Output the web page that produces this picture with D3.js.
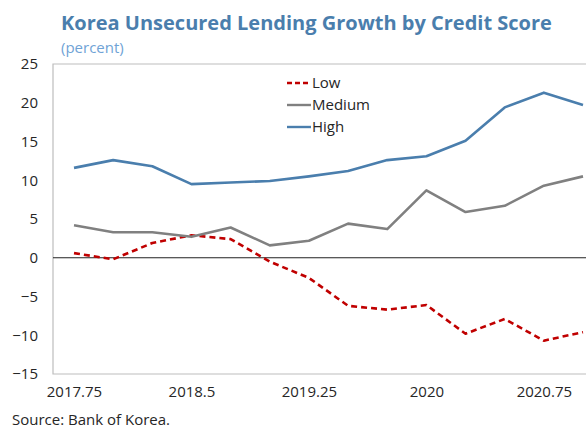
<!DOCTYPE html>
<html>
<head>
<meta charset="utf-8">
<script src="https://cdn.jsdelivr.net/npm/d3@7"></script>
<style>
  body { margin: 0; background: #fff; }
  svg { display: block; font-family: "Open Sans", "Noto Sans", sans-serif; }
</style>
</head>
<body>
<div id="chart"></div>
<script>
// quarterly observations
const quarters = [2017.75, 2018, 2018.25, 2018.5, 2018.75, 2019, 2019.25, 2019.5, 2019.75, 2020, 2020.25, 2020.5, 2020.75, 2021];
const lowScore = [0.6, -0.2, 1.9, 2.9, 2.4, -0.5, -2.6, -6.2, -6.7, -6.1, -9.8, -7.9, -10.7, -9.6];
const mediumScore = [4.2, 3.3, 3.3, 2.7, 3.9, 1.6, 2.2, 4.4, 3.7, 8.7, 5.9, 6.7, 9.3, 10.5];
const highScore = [11.6, 12.6, 11.8, 9.5, 9.7, 9.9, 10.5, 11.2, 12.6, 13.1, 15.1, 19.4, 21.3, 19.7];
const xTicks = [2017.75, 2018.5, 2019.25, 2020, 2020.75];
const yTicks = [-15, -10, -5, 0, 5, 10, 15, 20, 25];

const series = [
  {name: 'Low', values: lowScore, color: '#c00000', dash: '6,4'},
  {name: 'Medium', values: mediumScore, color: '#808080', dash: null},
  {name: 'High', values: highScore, color: '#4a7ead', dash: null}
];

const width = 586, height = 430;
const svg = d3.select('#chart').append('svg')
    .attr('width', width)
    .attr('height', height);

const plot = {left: 53, top: 64, right: 620, bottom: 374};

// x: quarters are evenly spaced, half a step padding on each side
const x = d3.scaleLinear()
    .domain([2017.75, 2021])
    .range([74, 583]);
const y = d3.scaleLinear()
    .domain([-15, 25])
    .range([plot.bottom, plot.top]);

// title
svg.append('text')
    .attr('x', 61).attr('y', 30)
    .attr('font-size', 20).attr('font-weight', 'bold')
    .attr('fill', '#4a7ead')
    .text('Korea Unsecured Lending Growth by Credit Score');
svg.append('text')
    .attr('x', 61).attr('y', 53)
    .attr('font-size', 15)
    .attr('fill', '#6fa3d6')
    .text('(percent)');

// frame (right side is cut off like the source)
svg.append('path')
    .attr('d', `M${plot.right},${plot.top}H${plot.left}V${plot.bottom}H${plot.right}`)
    .attr('fill', 'none')
    .attr('stroke', '#bdbdbd')
    .attr('stroke-width', 1.2);

// zero line
svg.append('line')
    .attr('x1', plot.left).attr('x2', plot.right)
    .attr('y1', y(0)).attr('y2', y(0))
    .attr('stroke', '#222').attr('stroke-width', 1);

// y axis labels
const yAxis = svg.append('g')
    .attr('transform', `translate(${plot.left},0)`)
    .call(d3.axisLeft(y).tickValues(yTicks).tickSize(0).tickPadding(15));
yAxis.select('.domain').remove();
yAxis.selectAll('text')
    .attr('font-size', 15)
    .attr('font-family', '"Open Sans", "Noto Sans", sans-serif')
    .attr('fill', '#262626');

// x axis labels
const xAxis = svg.append('g')
    .attr('transform', `translate(0,${plot.bottom})`)
    .call(d3.axisBottom(x).tickValues(xTicks).tickSize(0).tickPadding(12)
        .tickFormat(d => String(d)));
xAxis.select('.domain').remove();
xAxis.selectAll('text')
    .attr('font-size', 15)
    .attr('font-family', '"Open Sans", "Noto Sans", sans-serif')
    .attr('fill', '#262626');

// lines
const line = d3.line()
    .x((d, i) => x(quarters[i]))
    .y(d => y(d));

svg.selectAll('path.series').data(series)
    .join('path')
    .attr('class', 'series')
    .attr('d', d => line(d.values))
    .attr('fill', 'none')
    .attr('stroke', d => d.color)
    .attr('stroke-width', 2.6)
    .attr('stroke-dasharray', d => d.dash)
    .attr('stroke-linejoin', 'round');

// legend
const legend = svg.append('g').attr('transform', 'translate(287,83)');
const items = legend.selectAll('g').data(series)
    .join('g')
    .attr('transform', (d, i) => `translate(0,${i * 22})`);
items.append('line')
    .attr('x1', 0).attr('x2', 24)
    .attr('stroke', d => d.color)
    .attr('stroke-width', 2.4)
    .attr('stroke-dasharray', d => d.dash ? '5,3' : null);
items.append('text')
    .attr('x', 25).attr('dy', '0.35em')
    .attr('font-size', 15)
    .attr('fill', '#262626')
    .text(d => d.name);

// source
svg.append('text')
    .attr('x', 12).attr('y', 425)
    .attr('font-size', 15)
    .attr('fill', '#262626')
    .text('Source: Bank of Korea.');
</script>
</body>
</html>
